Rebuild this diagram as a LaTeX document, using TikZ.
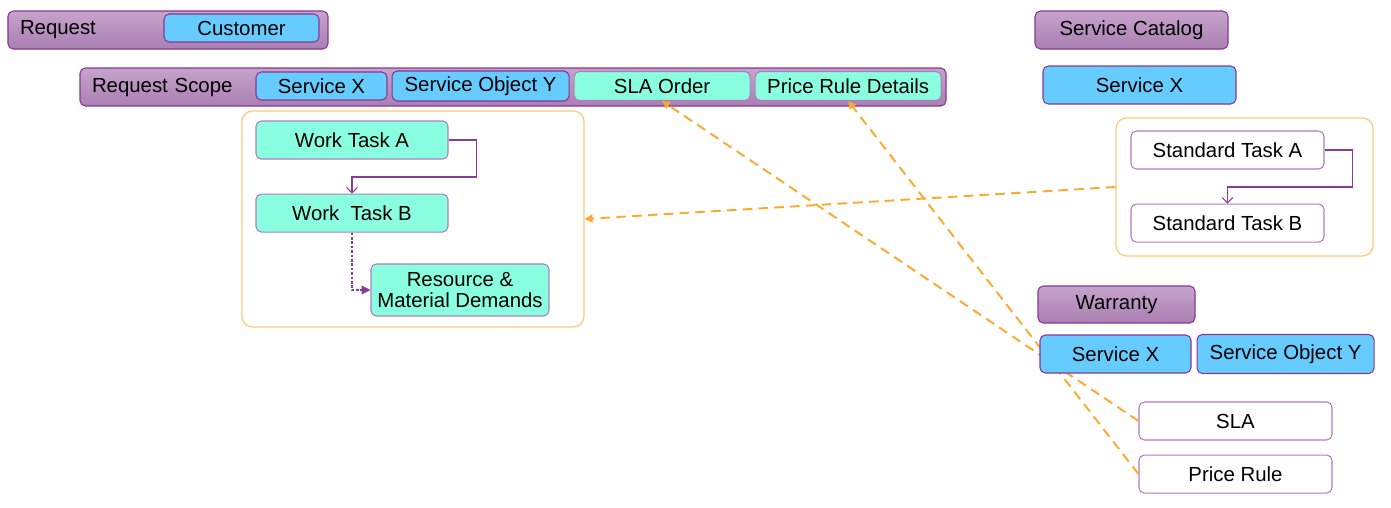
\documentclass[tikz,border=0pt]{standalone}
\usepackage{fontspec}
\setmainfont{Liberation Sans}
\usetikzlibrary{arrows.meta, positioning, calc}

\definecolor{hdtop}{RGB}{198,164,203}
\definecolor{hdbot}{RGB}{170,126,178}
\definecolor{hdline}{RGB}{135,55,150}
\definecolor{boxline}{RGB}{175,125,190}
\definecolor{svcblue}{RGB}{102,204,255}
\definecolor{ordergreen}{RGB}{138,255,224}
\definecolor{grpline}{RGB}{255,200,120}
\definecolor{flowline}{RGB}{135,60,150}
\definecolor{linkorange}{RGB}{255,168,45}

\begin{document}
\begin{tikzpicture}[
    font=\fontsize{11.6}{12}\selectfont,
    box/.style={draw=boxline, line width=0.6pt, rounded corners=3pt, inner sep=0pt, minimum height=0.76cm},
    header/.style={box, draw=hdline, top color=hdtop, bottom color=hdbot},
    svc/.style={box, draw=hdline, fill=svcblue},
    order/.style={box, fill=ordergreen},
    plain/.style={box, fill=white},
    group/.style={draw=grpline, line width=0.7pt, rounded corners=6pt, inner sep=0pt},
    flow/.style={draw=flowline, line width=0.6pt},
    link/.style={draw=linkorange, line width=1.1pt, dash pattern=on 5.5pt off 3.5pt, -{Triangle[length=4.5pt,width=4.5pt]}}
  ]
    \useasboundingbox (0,0) rectangle (27.82,-10.16);

    \node[header, text width=5.92cm, inner xsep=0.24cm, align=left] (req) at (3.36,-0.6) {Request};
    \node[svc, minimum width=3.1cm, minimum height=0.56cm] (cust) at (4.83,-0.56) {Customer};

    \node[header, text width=16.84cm, inner xsep=0.24cm, align=left] (scope) at (10.26,-1.74) {Request Scope};
    \node[svc, minimum width=2.62cm, minimum height=0.56cm] (sx) at (6.43,-1.72) {Service X};
    \node[svc, right=0.08cm of sx, minimum width=3.54cm, minimum height=0.6cm] (sobj) {Service Object Y};
    \node[order, right=0.08cm of sobj, minimum width=3.52cm, minimum height=0.58cm] (slaorder) {SLA Order};
    \node[order, right=0.08cm of slaorder, minimum width=3.72cm, minimum height=0.58cm] (prdetails) {Price Rule Details};

    \node[group, minimum width=6.84cm, minimum height=4.32cm] (work) at (8.26,-4.38) {};
    \node[order, minimum width=3.84cm] (wta) at (7.04,-2.8) {Work Task A};
    \node[order, below=0.68cm of wta, minimum width=3.84cm] (wtb) {Work~ Task B};
    \node[order, minimum width=3.56cm, minimum height=1.04cm, align=center] (rmd) at (9.2,-5.8) {Resource \&\\Material Demands};

    \draw[flow, -{Straight Barb[length=3pt,width=6pt]}] (wta.east) -| ++(0.56,-0.74) -| (wtb.north);
    \draw[flow, dash pattern=on 1.5pt off 1pt, -{Triangle[length=5pt,width=5pt]}] (wtb.south) |- (rmd.west);

    \node[header, minimum width=3.86cm] (catalog) at (22.63,-0.6) {Service Catalog};
    \node[svc, minimum width=3.86cm] (sxcat) at (22.79,-1.7) {Service X};

    \node[group, minimum width=5.14cm, minimum height=2.76cm] (std) at (24.89,-3.74) {};
    \node[plain, minimum width=3.86cm] (sta) at (24.55,-3.0) {Standard Task A};
    \node[plain, below=0.68cm of sta, minimum width=3.86cm] (stb) {Standard Task B};

    \draw[flow, -{Straight Barb[length=3pt,width=6pt]}] (sta.east) -| ++(0.56,-0.74) -| (stb.north);

    \node[header, minimum width=3.14cm, minimum height=0.74cm] (warranty) at (22.33,-6.09) {Warranty};
    \node[plain, minimum width=3.86cm] (sla) at (24.71,-8.42) {SLA};
    \node[plain, below=0.28cm of sla, minimum width=3.86cm] (prule) {Price Rule};

    \draw[link] (std.west) -- (work.east);
    \draw[link] (sla.west) -- (slaorder.south);
    \draw[link] (prule.west) -- (prdetails.south);

    \node[svc, minimum width=3.02cm] (sxwar) at (22.31,-7.08) {Service X};
    \node[svc, right=0.1cm of sxwar, minimum width=3.54cm, minimum height=0.78cm] (sobjwar) {Service Object Y};
  \end{tikzpicture}
\end{document}
